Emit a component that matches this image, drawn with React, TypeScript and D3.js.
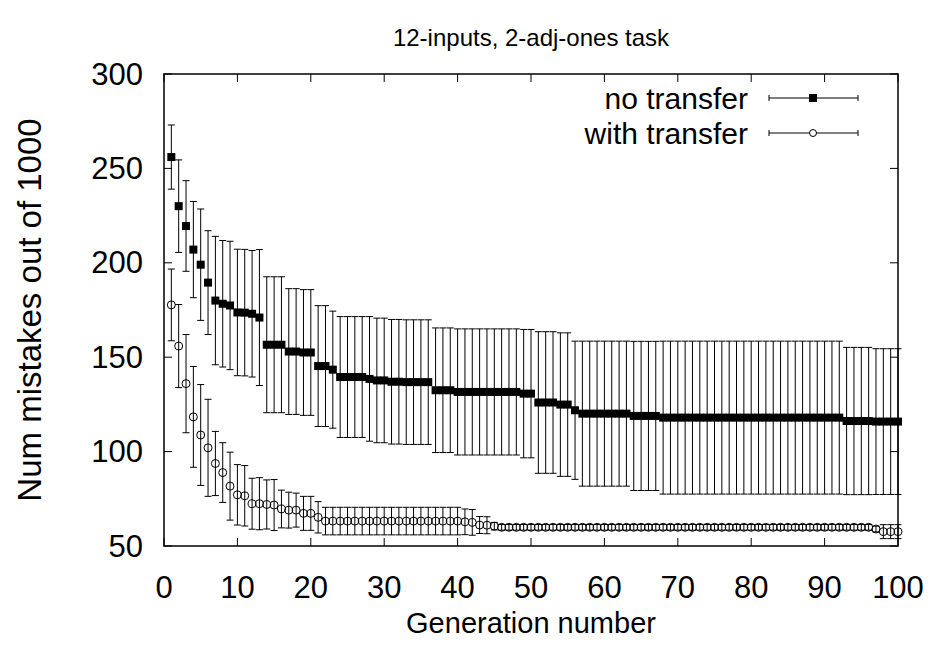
import { useEffect, useRef } from "react";
import * as d3 from "d3";

// generation index is the position in each array (1..100)
const noTransferMean = [
  256, 230, 219.5, 207, 199, 189.5, 180, 178.3, 177.4, 173.7,
  173.6, 173, 171, 156.6, 156.6, 156.6, 153, 153, 152.5, 152.5,
  145.3, 145.3, 143.4, 139.5, 139.5, 139.5, 139.5, 138.5, 137.7, 137.7,
  137, 137, 136.8, 136.8, 136.8, 136.8, 132.5, 132.5, 132.5, 131.6,
  131.6, 131.6, 131.6, 131.6, 131.6, 131.6, 131.6, 131.6, 130.7, 130.7,
  126, 126, 126, 124.9, 124.9, 121.9, 120.1, 120.1, 120.1, 120.1,
  120.1, 120.1, 120.1, 118.9, 118.9, 118.9, 118.9, 118, 118, 118,
  118, 118, 118, 118, 118, 118, 118, 118, 118, 118,
  118, 118, 118, 118, 118, 118, 118, 118, 118, 118,
  118, 118, 116.2, 116.2, 116.2, 116.2, 115.9, 115.9, 115.9, 115.9,
];
const noTransferErr = [
  17, 24.5, 24, 25.5, 29.5, 27.5, 34, 33.5, 34, 33.5,
  33.5, 33.5, 36, 36, 36, 36, 33.3, 33.3, 33.3, 33.3,
  32, 32, 31, 32, 32, 32, 32, 33, 33, 33,
  33, 33, 33, 33, 33, 33, 33, 33, 33, 33.4,
  33.4, 33.4, 33.4, 33.4, 33.4, 33.4, 33.4, 33.4, 34, 34,
  37.5, 37.5, 37.5, 38, 38, 36.6, 38.4, 38.4, 38.4, 38.4,
  38.4, 38.4, 38.4, 39.5, 39.5, 39.5, 39.5, 40.5, 40.5, 40.5,
  40.5, 40.5, 40.5, 40.5, 40.5, 40.5, 40.5, 40.5, 40.5, 40.5,
  40.5, 40.5, 40.5, 40.5, 40.5, 40.5, 40.5, 40.5, 40.5, 40.5,
  40.5, 40.5, 39, 39, 39, 39, 38.6, 38.6, 38.6, 38.6,
];
const withTransferMean = [
  177.7, 155.9, 136, 118.4, 108.8, 102, 93.7, 88.9, 81.7, 77.1,
  76.6, 72.4, 72.4, 72, 71.7, 69.6, 69, 69, 67.3, 67.3,
  65.2, 63.2, 63.2, 63.2, 63.2, 63.2, 63.2, 63.2, 63.2, 63.2,
  63.2, 63.2, 63.2, 63.2, 63.2, 63.2, 63.2, 63.2, 63.2, 63.2,
  62.8, 62.5, 61.1, 61, 60.5, 59.9, 59.9, 59.9, 59.9, 59.9,
  59.9, 59.9, 59.9, 59.9, 59.9, 59.9, 59.9, 59.9, 59.9, 59.9,
  59.9, 59.9, 59.9, 59.9, 59.9, 59.9, 59.9, 59.9, 59.9, 59.9,
  59.9, 59.9, 59.9, 59.9, 59.9, 59.9, 59.9, 59.9, 59.9, 59.9,
  59.9, 59.9, 59.9, 59.9, 59.9, 59.9, 59.9, 59.9, 59.9, 59.9,
  59.9, 59.9, 59.9, 59.9, 59.9, 59.9, 59, 57.6, 57.6, 57.6,
];
const withTransferErr = [
  19, 22, 26, 26.7, 26.7, 25.7, 17, 15.8, 18, 16,
  16, 13.5, 13.8, 13, 13.5, 10, 9.5, 9, 9, 9,
  8.3, 7.3, 7.3, 7.3, 7.3, 7.3, 7.3, 7.3, 7.3, 7.3,
  7.3, 7.3, 7.3, 7.3, 7.3, 7.3, 7.3, 7.3, 7.3, 7.3,
  6.8, 6.8, 4.5, 4.5, 2, 1.5, 1.5, 1.5, 1.5, 1.5,
  1.5, 1.5, 1.5, 1.5, 1.5, 1.5, 1.5, 1.5, 1.5, 1.5,
  1.5, 1.5, 1.5, 1.5, 1.5, 1.5, 1.5, 1.5, 1.5, 1.5,
  1.5, 1.5, 1.5, 1.5, 1.5, 1.5, 1.5, 1.5, 1.5, 1.5,
  1.5, 1.5, 1.5, 1.5, 1.5, 1.5, 1.5, 1.5, 1.5, 1.5,
  1.5, 1.5, 1.5, 1.5, 1.5, 1.5, 1.5, 3.7, 3.7, 3.7,
];

const xTicks = [0, 10, 20, 30, 40, 50, 60, 70, 80, 90, 100];
const yTicks = [50, 100, 150, 200, 250, 300];
const seriesNames = ["no transfer", "with transfer"];
const title = "12-inputs, 2-adj-ones task";
const xLabel = "Generation number";
const yLabel = "Num mistakes out of 1000";

const W = 933,
  H = 645;
const margin = { top: 74, right: 35, bottom: 99, left: 164 };
const font = "'Liberation Sans', Arial, Helvetica, sans-serif";

const App = () => {
  const ref = useRef<SVGSVGElement | null>(null);

  useEffect(() => {
    document.body.style.margin = "0";
    const svg = d3.select(ref.current);
    svg.selectAll("*").remove();

    const x = d3
      .scaleLinear()
      .domain([0, 100])
      .range([margin.left, W - margin.right]);
    const y = d3
      .scaleLinear()
      .domain([50, 300])
      .range([H - margin.bottom, margin.top]);

    const [x0, x1] = x.range();
    const [y1, y0] = y.range();
    const tick = 8;
    const cap = 3.5;

    const g = svg.append("g");

    // ticks (mirrored on all sides, pointing inward)
    yTicks.forEach((t) => {
      g.append("line").attr("x1", x0).attr("x2", x0 + tick).attr("y1", y(t)).attr("y2", y(t)).attr("stroke", "#000");
      g.append("line").attr("x1", x1).attr("x2", x1 - tick).attr("y1", y(t)).attr("y2", y(t)).attr("stroke", "#000");
      g.append("text")
        .attr("x", x0 - 21)
        .attr("y", y(t))
        .attr("text-anchor", "end")
        .attr("dominant-baseline", "central")
        .attr("font-size", 31)
        .attr("font-family", font)
        .text(t);
    });
    xTicks.forEach((t) => {
      g.append("line").attr("x1", x(t)).attr("x2", x(t)).attr("y1", y1).attr("y2", y1 - tick).attr("stroke", "#000");
      g.append("line").attr("x1", x(t)).attr("x2", x(t)).attr("y1", y0).attr("y2", y0 + tick).attr("stroke", "#000");
      g.append("text")
        .attr("x", x(t))
        .attr("y", 587)
        .attr("text-anchor", "middle")
        .attr("dominant-baseline", "central")
        .attr("font-size", 31)
        .attr("font-family", font)
        .text(t);
    });

    function errorBars(means: number[], errs: number[]) {
      const bars = g.append("g").attr("stroke", "#000").attr("stroke-width", 1);
      means.forEach((m, i) => {
        const gx = x(i + 1);
        const lo = y(m - errs[i]);
        const hi = y(m + errs[i]);
        bars.append("line").attr("x1", gx).attr("x2", gx).attr("y1", lo).attr("y2", hi);
        bars.append("line").attr("x1", gx - cap).attr("x2", gx + cap).attr("y1", lo).attr("y2", lo);
        bars.append("line").attr("x1", gx - cap).attr("x2", gx + cap).attr("y1", hi).attr("y2", hi);
      });
    }

    errorBars(noTransferMean, noTransferErr);
    g.append("g")
      .selectAll("rect")
      .data(noTransferMean)
      .join("rect")
      .attr("x", (d, i) => x(i + 1) - 4)
      .attr("y", (d) => y(d) - 4)
      .attr("width", 8)
      .attr("height", 8)
      .attr("fill", "#000");

    errorBars(withTransferMean, withTransferErr);
    g.append("g")
      .selectAll("circle")
      .data(withTransferMean)
      .join("circle")
      .attr("cx", (d, i) => x(i + 1))
      .attr("cy", (d) => y(d))
      .attr("r", 4)
      .attr("fill", "none")
      .attr("stroke", "#000")
      .attr("stroke-width", 1);

    // frame
    g.append("rect")
      .attr("x", x0)
      .attr("y", y0)
      .attr("width", x1 - x0)
      .attr("height", y1 - y0)
      .attr("fill", "none")
      .attr("stroke", "#000")
      .attr("stroke-width", 1.5);

    // legend
    seriesNames.forEach((name, i) => {
      const ly = 98 + i * 35;
      const lg = g.append("g");
      lg.append("text")
        .attr("x", 748)
        .attr("y", ly)
        .attr("text-anchor", "end")
        .attr("dominant-baseline", "central")
        .attr("font-size", 30)
        .attr("font-family", font)
        .text(name);
      lg.append("line").attr("x1", 769).attr("x2", 858).attr("y1", ly).attr("y2", ly).attr("stroke", "#000");
      lg.append("line").attr("x1", 769).attr("x2", 769).attr("y1", ly - 3).attr("y2", ly + 3).attr("stroke", "#000");
      lg.append("line").attr("x1", 858).attr("x2", 858).attr("y1", ly - 3).attr("y2", ly + 3).attr("stroke", "#000");
      if (i === 0) {
        lg.append("rect").attr("x", 813 - 4).attr("y", ly - 4).attr("width", 8).attr("height", 8).attr("fill", "#000");
      } else {
        lg.append("circle").attr("cx", 813).attr("cy", ly).attr("r", 3.5).attr("fill", "#fff").attr("stroke", "#000");
      }
    });

    // titles
    g.append("text")
      .attr("x", (x0 + x1) / 2)
      .attr("y", 37)
      .attr("text-anchor", "middle")
      .attr("dominant-baseline", "central")
      .attr("font-size", 24)
      .attr("font-family", font)
      .text(title);
    g.append("text")
      .attr("x", (x0 + x1) / 2)
      .attr("y", 623)
      .attr("text-anchor", "middle")
      .attr("dominant-baseline", "central")
      .attr("font-size", 29)
      .attr("font-family", font)
      .text(xLabel);
    g.append("text")
      .attr("transform", `translate(29,${(y0 + y1) / 2}) rotate(-90)`)
      .attr("text-anchor", "middle")
      .attr("dominant-baseline", "central")
      .attr("font-size", 33)
      .attr("font-family", font)
      .text(yLabel);
  }, []);

  return <svg ref={ref} width={W} height={H} style={{ display: "block", background: "#fff" }} />;
};

export default App;
